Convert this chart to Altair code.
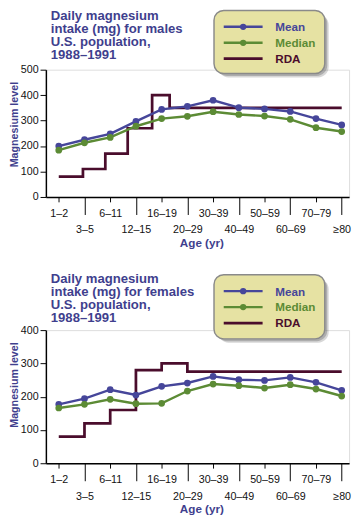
import json
import altair as alt
import pandas as pd

# ---------------- data ----------------
ages = ["1–2", "3–5", "6–11", "12–15", "16–19", "20–29",
        "30–39", "40–49", "50–59", "60–69", "70–79", "≥80"]
series_names = ["Mean", "Median", "RDA"]
series_colors = ["#46469a", "#5c8b35", "#4a0d2c"]

male_title = ["Daily magnesium", "intake (mg) for males", "U.S. population,", "1988–1991"]
male_mean = [200, 225, 248, 297, 344, 356, 380, 351, 346, 336, 308, 283]
male_median = [184, 213, 234, 278, 308, 317, 335, 324, 318, 305, 272, 257]
male_rda_x = [0, 0.94, 1.81, 2.68, 3.63, 4.31, 11]   # break points on the age axis
male_rda = [80, 110, 170, 270, 400, 350, 350]

female_title = ["Daily magnesium", "intake (mg) for females", "U.S. population,", "1988–1991"]
female_mean = [177, 194, 221, 205, 231, 241, 261, 251, 249, 258, 243, 219]
female_median = [166, 177, 192, 179, 180, 217, 238, 233, 226, 236, 223, 202]
female_rda_x = [0, 1, 2, 3, 4, 5, 11]
female_rda = [80, 120, 160, 280, 300, 275, 275]

TITLE_C = "#3f3f8e"
BG = "#e9e5ad"
LEG_BG = "#e6e2a3"
FONT = "Liberation Sans"


def series_df(mean, median):
    rows = []
    for i, (a, b) in enumerate(zip(mean, median)):
        rows.append({"i": i, "value": a, "series": "Mean"})
        rows.append({"i": i, "value": b, "series": "Median"})
    return pd.DataFrame(rows)


def rda_df(xs, vals):
    return pd.DataFrame({"i": xs, "value": vals, "series": ["RDA"] * len(xs)})


label_expr = json.dumps(ages, ensure_ascii=False) + "[datum.value]"
odd = "datum.value % 2 == 1"
cscale = alt.Scale(domain=series_names, range=series_colors)


def legend_layers(top, h):
    """Legend box drawn as marks; entries come from series_names."""
    layers = []
    for off, op in [(4, 0.25), (2.5, 0.35)]:
        layers.append(alt.Chart(alt.Data(values=[{}])).mark_rect(
            color="#5f5f5f", opacity=op, cornerRadius=11
        ).encode(x=alt.value(173 + off), x2=alt.value(287 + off),
                 y=alt.value(top + off), y2=alt.value(top + h + off)))
    layers.append(alt.Chart(alt.Data(values=[{}])).mark_rect(
        fill=LEG_BG, stroke="#8a8a8a", strokeWidth=1.5, cornerRadius=10
    ).encode(x=alt.value(173), x2=alt.value(287), y=alt.value(top),
             y2=alt.value(top + h)))
    for k, name in enumerate(series_names):
        ent = alt.Chart(pd.DataFrame({"series": [name]}))
        yy = top + 16.9 + 16.4 * k
        col = alt.Color("series:N", scale=cscale, legend=None)
        layers.append(ent.mark_rule(strokeWidth=2.8 if name == "RDA" else 2.5).encode(
            x=alt.value(183), x2=alt.value(223), y=alt.value(yy), color=col))
        if name != "RDA":
            layers.append(ent.mark_point(filled=True, size=42, opacity=1).encode(
                x=alt.value(203), y=alt.value(yy), color=col))
        layers.append(ent.mark_text(align="left", baseline="middle", fontSize=12,
                                    fontWeight="bold", font=FONT).encode(
            x=alt.value(236), y=alt.value(yy + 0.5), text="series:N", color=col))
    return layers


def panel(title_lines, mean, median, rda_x, rda_v, ymax, height, legend_top, legend_h, title_top):
    df = series_df(mean, median)
    rd = rda_df(rda_x, rda_v)
    x_axis = alt.Axis(
        values=list(range(len(ages))), labelExpr=label_expr, title="Age (yr)",
        grid=False, domainColor="black", domainWidth=1.5, tickColor="black",
        tickWidth=1,
        tickSize={"condition": {"test": odd, "value": 18}, "value": 5},
        labelPadding={"condition": {"test": odd, "value": 10}, "value": 6},
        labelFontSize=11, labelColor="#111", labelFont=FONT, labelAngle=0,
        labelOverlap=False, labelFlush=False, labelBaseline="top",
        titleFontSize=12, titleFontWeight="bold", titleColor=TITLE_C,
        titleFont=FONT, titlePadding=3, titleX=160,
    )
    y_axis = alt.Axis(
        values=list(range(0, ymax + 1, 100)), title="Magnesium level", grid=False,
        domainColor="black", domainWidth=1.5, tickColor="black", tickWidth=1,
        tickSize=6, labelPadding=2, labelFontSize=11, labelColor="#111",
        labelFont=FONT, titleFontSize=11, titleFontWeight="bold",
        titleColor=TITLE_C, titleFont=FONT, titlePadding=1, titleY=56,
    )
    x = alt.X("i:Q", scale=alt.Scale(domain=[-0.5, 11.287], nice=False, zero=False), axis=x_axis)
    y = alt.Y("value:Q", scale=alt.Scale(domain=[0, ymax], nice=False), axis=y_axis)
    col = alt.Color("series:N", scale=cscale, legend=None)

    rda = alt.Chart(rd).mark_line(strokeWidth=2.8, interpolate="step-after").encode(
        x=x, y=y, color=col)
    lines = alt.Chart(df).mark_line(strokeWidth=2.5).encode(x=x, y=y, color=col)
    pts = alt.Chart(df).mark_point(filled=True, size=48, opacity=1).encode(
        x=x, y=y, color=col)
    title = alt.Chart(alt.Data(values=[{}])).mark_text(
        align="left", baseline="top", fontSize=13.5, fontWeight="bold",
        color=TITLE_C, lineHeight=13.5, font=FONT
    ).encode(x=alt.value(5), y=alt.value(title_top), text=alt.value(title_lines))
    return alt.layer(rda, lines, pts, title, *legend_layers(legend_top, legend_h)).properties(
        width=312, height=height)


male = panel(male_title, male_mean, male_median, male_rda_x, male_rda, 500, 131, -61, 65, -62)
female = panel(female_title, female_mean, female_median, female_rda_x, female_rda, 400, 137, -57, 66, -60)

chart = alt.vconcat(male, female, spacing=22).properties(
    padding={"top": -7, "left": 0, "right": 0, "bottom": 0}
).configure_view(fill=BG, stroke=None).configure(font=FONT)

chart.save("out.html", embed_options={"renderer": "svg", "actions": False})
